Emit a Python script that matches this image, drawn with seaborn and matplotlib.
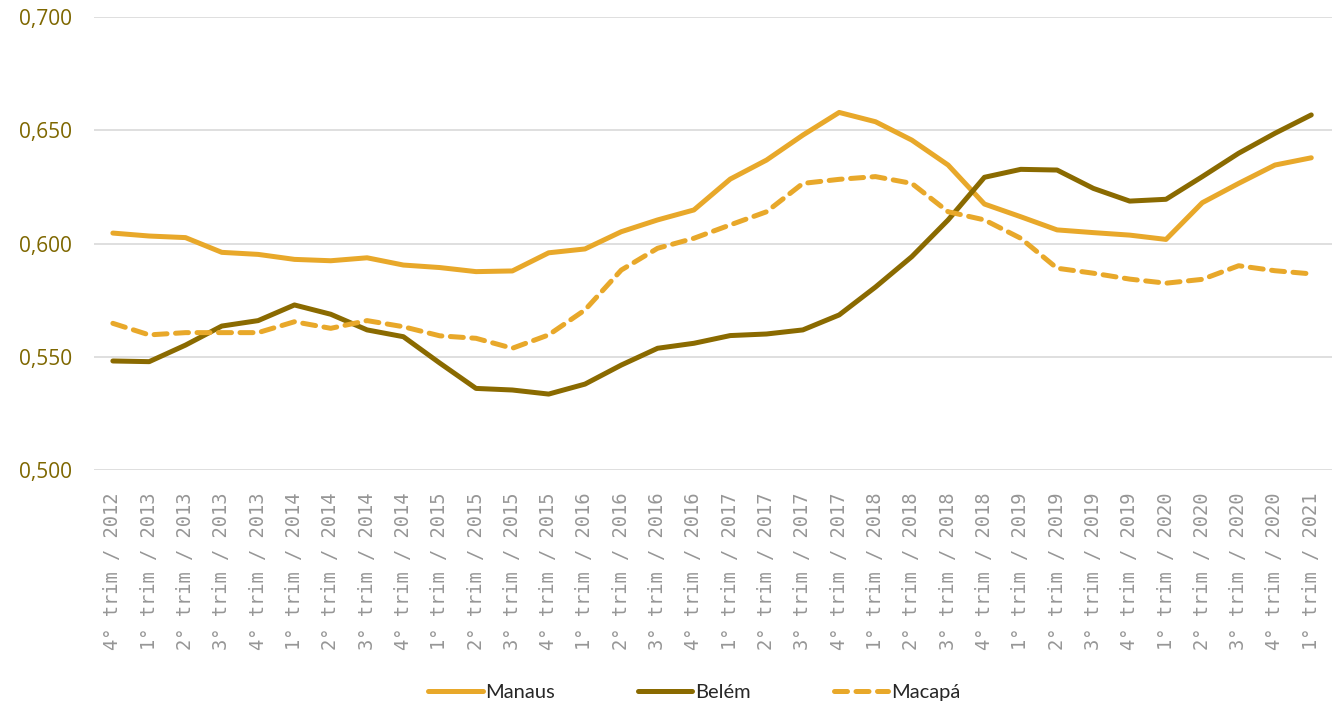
import matplotlib
matplotlib.use("Agg")
import matplotlib.pyplot as plt
import seaborn as sns
import pandas as pd
import numpy as np

quarters = ["4° trim / 2012", "1° trim / 2013", "2° trim / 2013", "3° trim / 2013", "4° trim / 2013",
            "1° trim / 2014", "2° trim / 2014", "3° trim / 2014", "4° trim / 2014",
            "1° trim / 2015", "2° trim / 2015", "3° trim / 2015", "4° trim / 2015",
            "1° trim / 2016", "2° trim / 2016", "3° trim / 2016", "4° trim / 2016",
            "1° trim / 2017", "2° trim / 2017", "3° trim / 2017", "4° trim / 2017",
            "1° trim / 2018", "2° trim / 2018", "3° trim / 2018", "4° trim / 2018",
            "1° trim / 2019", "2° trim / 2019", "3° trim / 2019", "4° trim / 2019",
            "1° trim / 2020", "2° trim / 2020", "3° trim / 2020", "4° trim / 2020",
            "1° trim / 2021"]

manaus = [0.6046, 0.6033, 0.6026, 0.5961, 0.5952, 0.5930, 0.5924, 0.5937, 0.5905,
          0.5894, 0.5876, 0.5879, 0.5959, 0.5976, 0.6052, 0.6104, 0.6148, 0.6284,
          0.6368, 0.6478, 0.6578, 0.6537, 0.6456, 0.6346, 0.6174, 0.6118, 0.6060,
          0.6048, 0.6037, 0.6018, 0.6180, 0.6265, 0.6346, 0.6378]
belem = [0.5482, 0.5479, 0.5552, 0.5636, 0.5660, 0.5729, 0.5688, 0.5619, 0.5589,
         0.5473, 0.5361, 0.5354, 0.5336, 0.5380, 0.5464, 0.5538, 0.5560, 0.5594,
         0.5601, 0.5619, 0.5685, 0.5808, 0.5942, 0.6104, 0.6292, 0.6327, 0.6324,
         0.6243, 0.6187, 0.6195, 0.6295, 0.6398, 0.6486, 0.6567]
macapa = [0.5648, 0.5597, 0.5607, 0.5607, 0.5607, 0.5655, 0.5626, 0.5660, 0.5633,
          0.5593, 0.5582, 0.5538, 0.5597, 0.5707, 0.5883, 0.5979, 0.6023, 0.6082,
          0.6140, 0.6265, 0.6283, 0.6295, 0.6265, 0.6140, 0.6104, 0.6023, 0.5891,
          0.5869, 0.5843, 0.5825, 0.5842, 0.5902, 0.5880, 0.5866]

series_names = ["Manaus", "Belém", "Macapá"]
colors = {"Manaus": "#E8A82A", "Belém": "#8A6A00", "Macapá": "#E8A82A"}
yticks = [0.500, 0.550, 0.600, 0.650, 0.700]
ytick_labels = ["0,500", "0,550", "0,600", "0,650", "0,700"]

sns.set_theme(style="white")
plt.rcParams['font.family'] = ['Open Sans', 'DejaVu Sans']

fig = plt.figure(figsize=(13.35, 7.09), dpi=100)
ax = fig.add_axes([0.0704, 0.3367, 0.9276, 0.6397])

idx = np.arange(len(quarters))
df = pd.DataFrame({"idx": np.tile(idx, 3),
                   "valor": manaus + belem + macapa,
                   "cidade": np.repeat(series_names, len(quarters))})

sns.lineplot(data=df, x="idx", y="valor", hue="cidade", style="cidade",
             hue_order=series_names, style_order=series_names,
             palette=colors, dashes={"Manaus": "", "Belém": "", "Macapá": (2.6, 1.7)},
             linewidth=3.6, ax=ax, legend=False)

for line in ax.get_lines():
    line.set_dash_capstyle("round")
    line.set_solid_capstyle("butt")

ax.set_xlim(-0.52, 33.58)
ax.set_ylim(0.5, 0.7)
ax.set_yticks(yticks)
ax.set_yticklabels(ytick_labels, color="#7E6700", fontsize=15)
ax.set_xticks(idx)
ax.set_xticklabels(quarters, rotation=90, color="#969696", fontsize=13.5,
                   family=["DejaVu Sans Mono", "DejaVu Sans"])
ax.tick_params(axis="x", length=0, pad=16)
ax.tick_params(axis="y", length=0, pad=16)
ax.set_xlabel("")
ax.set_ylabel("")
ax.yaxis.grid(True, color="#D9D9D9", linewidth=1.2)
ax.xaxis.grid(False)
for s in ax.spines.values():
    s.set_visible(False)

handles = ax.get_lines()[:3]
for h in handles:
    h.set_solid_capstyle("round")
leg = fig.legend(handles, series_names, loc="lower center", bbox_to_anchor=(0.52, -0.014),
                 ncol=3, frameon=False, handlelength=2.7,
                 columnspacing=4.1, handletextpad=0.15,
                 prop={"family": ["Lato", "DejaVu Sans"], "size": 14.5})
for t in leg.get_texts():
    t.set_color("#262626")

fig.savefig("out.png", dpi=100)
